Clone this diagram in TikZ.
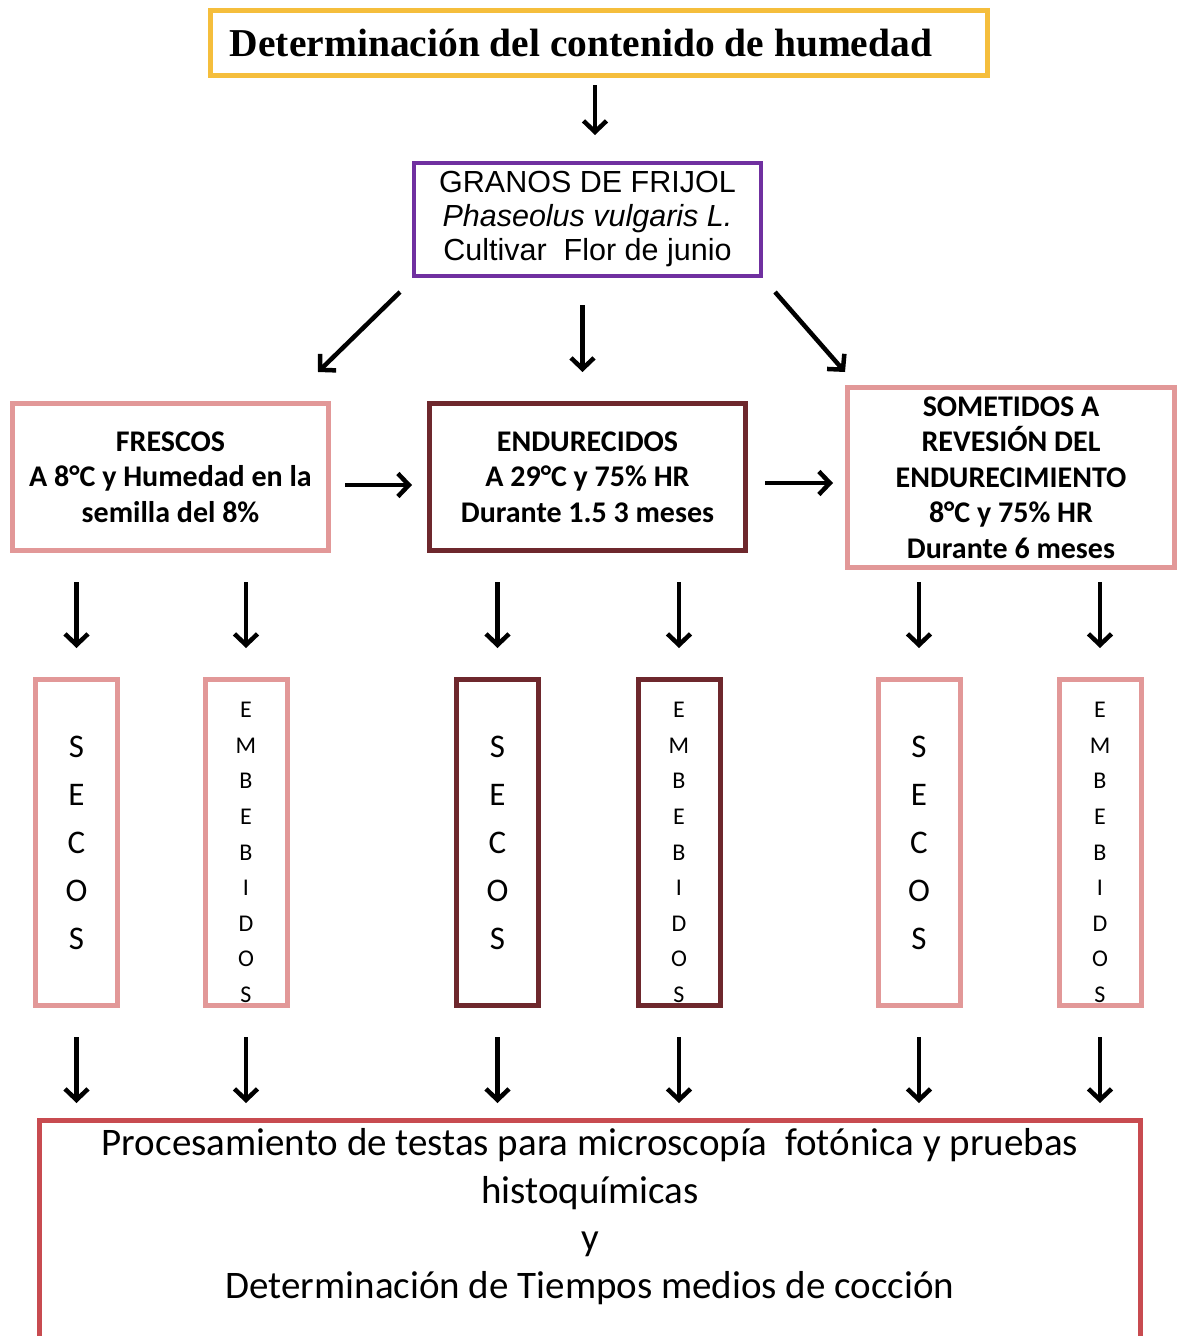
\documentclass[tikz,border=0pt]{standalone}
\usepackage{fontspec}
\setmainfont{Carlito}
\newfontfamily\titlefont{Liberation Serif}
\newfontfamily\granosfont{Liberation Sans}
\usetikzlibrary{arrows.meta}

\definecolor{titleorange}{RGB}{245,190,60}
\definecolor{granpurple}{RGB}{112,48,160}
\definecolor{lightpink}{RGB}{226,152,152}
\definecolor{darkmaroon}{RGB}{110,40,45}
\definecolor{procred}{RGB}{200,75,80}

\tikzset{
  box/.style={draw, line width=5pt, inner sep=0pt, align=center},
  stagebox/.style={box, minimum width=316pt, minimum height=147pt, font=\bfseries\fontsize{30}{35.5}\selectfont},
  tallbox/.style={box, minimum width=82pt, minimum height=326pt, font=\fontsize{33}{48}\selectfont},
  embtext/.style={align=center, yshift=-10pt, font=\fontsize{24}{35.6}\selectfont},
  arr/.style={-{Straight Barb[length=11pt,width=23pt]}, line width=4.5pt},
}

\begin{document}
\begin{tikzpicture}[x=1pt,y=-1pt]
  \useasboundingbox (0,0) rectangle (1177,1336);

  \node[box, draw=titleorange, minimum width=777pt, minimum height=65pt, label={[xshift=-18pt, font=\titlefont\bfseries\fontsize{39.5}{44}\selectfont]center:Determinación del contenido de humedad}] (tit) at (599,43) {};

  \node[box, draw=granpurple, line width=4pt, minimum width=347pt, minimum height=113pt, font=\granosfont\fontsize{30.5}{34}\selectfont] (gra) at (587.5,219.5) {GRANOS DE FRIJOL\\\textit{Phaseolus vulgaris L.}\\Cultivar\ \ Flor de junio};

  \node[stagebox, draw=lightpink] (fres) at (170.5,477) {FRESCOS\\A 8°C y Humedad en la\\semilla del 8\%};
  \node[stagebox, draw=darkmaroon] (endu) at (587.5,477) {ENDURECIDOS\\A 29°C y 75\% HR\\Durante 1.5 3 meses};
  \node[stagebox, draw=lightpink, minimum width=327pt, minimum height=180pt] (som) at (1011,477.5) {SOMETIDOS A\\REVESIÓN DEL\\ENDURECIMIENTO\\8°C y 75\% HR\\Durante 6 meses};

  % secos / embebidos
  \node[tallbox, draw=lightpink] (sec1) at (76.5,842.5) {S\\E\\C\\O\\S};
  \node[tallbox, draw=lightpink, label={[embtext]center:{E\\M\\B\\E\\B\\I\\D\\O\\S}}] (emb1) at (246,842.5) {};
  \node[tallbox, draw=darkmaroon] (sec2) at (497.5,842.5) {S\\E\\C\\O\\S};
  \node[tallbox, draw=darkmaroon, label={[embtext]center:{E\\M\\B\\E\\B\\I\\D\\O\\S}}] (emb2) at (679,842.5) {};
  \node[tallbox, draw=lightpink] (sec3) at (919,842.5) {S\\E\\C\\O\\S};
  \node[tallbox, draw=lightpink, label={[embtext]center:{E\\M\\B\\E\\B\\I\\D\\O\\S}}] (emb3) at (1100,842.5) {};

  \node[box, draw=procred, minimum width=1101pt, minimum height=220pt, label={[align=center, yshift=14pt, font=\fontsize{39}{47.5}\selectfont]center:{Procesamiento de testas para microscopía\ \ fotónica y pruebas\\histoquímicas\\y\\Determinación de Tiempos medios de cocción}}] (proc) at (590,1230.5) {};

  \draw[arr, shorten <=7pt, shorten >=26pt] ([xshift=-4pt]tit.south) -- ([xshift=-4pt]tit.south |- gra.north);

  \draw[arr] ([xshift=-12pt,yshift=-14pt]gra.south west) -- ([xshift=-13pt,yshift=29pt]fres.north east);
  \draw[arr] ([xshift=-5pt,yshift=-27pt]gra.south) -- ([xshift=-5pt,yshift=29pt]endu.north);
  \draw[arr] ([xshift=12pt,yshift=-14pt]gra.south east) -- ([yshift=13pt]som.north west);

  \draw[arr] ([xshift=14pt,yshift=-8pt]fres.east) -- ([xshift=-15pt,yshift=-8pt]endu.west);
  \draw[arr] ([xshift=17pt,yshift=-6pt]endu.east) -- ([xshift=-12pt,yshift=-5.5pt]som.west);

  \foreach \p/\t in {fres/sec1, fres/emb1, endu/sec2, endu/emb2}
    \draw[arr, shorten <=29pt, shorten >=29pt] (\p.south -| \t.north) -- (\t.north);
  \foreach \t in {sec3, emb3}
    \draw[arr, shorten <=12pt, shorten >=29pt] (som.south -| \t.north) -- (\t.north);

  \foreach \t in {sec1, emb1, sec2, emb2, sec3, emb3}
    \draw[arr, shorten <=29pt, shorten >=15pt] (\t.south) -- (\t.south |- proc.north);
\end{tikzpicture}
\end{document}
